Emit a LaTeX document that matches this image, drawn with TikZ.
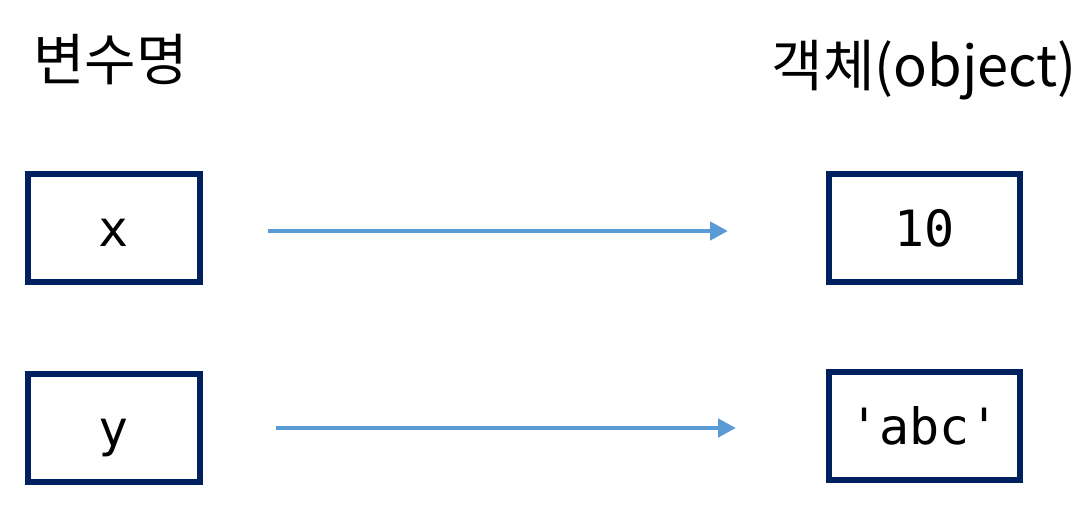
\documentclass[tikz,border=0pt]{standalone}
\usepackage{fontspec}
\setmonofont{DejaVu Sans Mono}
\newfontfamily\kor{Noto Sans CJK KR}
\usepackage{xcolor}
\usetikzlibrary{arrows.meta, positioning}
\definecolor{navy}{HTML}{002060}
\definecolor{arrblue}{HTML}{5B9BD5}
\tikzset{
  sbox/.style   = {rectangle, draw=navy, line width=6pt, fill=white,
                   minimum height=108pt, inner sep=0pt,
                   font=\fontsize{50pt}{56pt}\selectfont\ttfamily,
                   text height=37pt, text depth=0pt},
  varbox/.style = {sbox, minimum width=172pt},
  objbox/.style = {sbox, minimum width=191pt},
  arr/.style    = {-{Triangle[length=18pt, width=18pt]}, line width=4.5pt,
                   draw=arrblue},
  lbl/.style    = {font=\fontsize{56pt}{62pt}\selectfont\kor, inner sep=0pt},
}

\begin{document}
\begin{tikzpicture}[x=1pt, y=-1pt]
  \useasboundingbox (0,0) rectangle (1087,514);

  % headings
  \node[lbl, anchor=west] (varhead) at (33,60) {변수명};
  \node[lbl, anchor=east] (objhead) at (1077,70) {객체(object)};

  % variable names
  \node[varbox] (xvar) at (114,228) {x};
  \node[varbox] (yvar) at (114,428) {y};

  % objects
  \node[objbox] (ten) at (924.5,228) {10};
  \node[objbox] (abc) at (924.5,426) {'abc'};

  % references
  \draw[arr, shorten <=65pt, shorten >=98pt]
    ([yshift=-3pt]xvar.east) -- ([yshift=-3pt]xvar.east -| ten.west);
  \draw[arr, shorten <=73pt, shorten >=90pt]
    (yvar.east) -- (yvar.east -| abc.west);
\end{tikzpicture}
\end{document}
